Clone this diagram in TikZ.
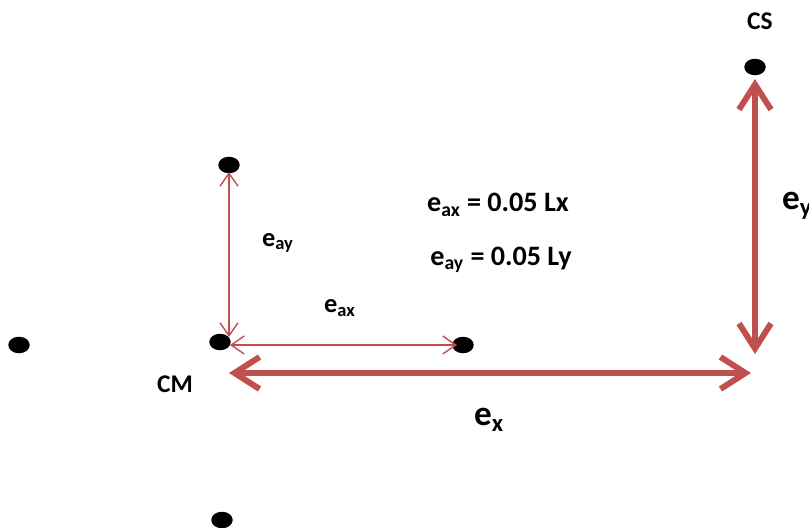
\documentclass[tikz,border=0pt]{standalone}
\usepackage{fontspec}
\setmainfont{Carlito}
\usetikzlibrary{arrows.meta,shapes.geometric}
\definecolor{offred}{HTML}{C0504D}
\tikzset{
    dot/.style={ellipse,fill=black,minimum width=0.43cm,minimum height=0.33cm,inner sep=0pt},
    lbl/.style={font=\bfseries\fontsize{14.5}{16}\selectfont},
    sublbl/.style={font=\bfseries\fontsize{15}{17}\selectfont},
    eqn/.style={font=\bfseries\fontsize{16}{18}\selectfont},
    biglbl/.style={font=\bfseries\fontsize{20}{22}\selectfont},
    bigarrow/.style={{Straight Barb[length=5mm,width=6.4mm]}-{Straight Barb[length=5mm,width=6.4mm]},line width=3.4pt,offred,line cap=round},
    thinarrow/.style={{Straight Barb[length=2.6mm,width=3.6mm]}-{Straight Barb[length=2.6mm,width=3.6mm]},line width=0.8pt,offred}
}

\begin{document}
\begin{tikzpicture}[x=0.02cm,y=-0.02cm]
    \useasboundingbox (0,0) rectangle (809,528);
    % points
    \node[dot] (CS) at (755,67) {};
    \node[dot] (T) at (229,165) {};
    \node[dot] (CM) at (220,342) {};
    \node[dot] (R) at (463,345) {};
    \node[dot] (L) at (19,345) {};
    \node[dot] (B) at (222,520) {};
    % arrow ends
    \coordinate (ayTop) at (229,172);
    \coordinate (ayBot) at (229,337);
    \coordinate (axL) at (230,345);
    \coordinate (axR) at (457,345);
    \coordinate (exL) at (229,373);
    \coordinate (exR) at (751,373);
    \coordinate (eyTop) at (755,79);
    \coordinate (eyBot) at (755,354);
    \draw[thinarrow] (ayTop) -- (ayBot);
    \draw[thinarrow] (axL) -- (axR);
    \draw[bigarrow] (exL) -- (exR);
    \draw[bigarrow] (eyTop) -- (eyBot);
    % labels
    \node[lbl] (csl) at (760,21) {CS};
    \node[lbl] (cml) at (175,384) {CM};
    \node[sublbl] (eayl) at (278,243) {e\textsubscript{ay}};
    \node[sublbl] (eaxl) at (340,308) {e\textsubscript{ax}};
    \node[eqn] (eq1) at (498,205) {e\textsubscript{ax} = 0.05 Lx};
    \node[eqn] (eq2) at (501,260) {e\textsubscript{ay} = 0.05 Ly};
    \node[biglbl] (exl) at (489,420) {e\textsubscript{x}};
    \node[biglbl,anchor=west] (eyl) at (776,206) {e\textsubscript{y}};
\end{tikzpicture}
\end{document}
